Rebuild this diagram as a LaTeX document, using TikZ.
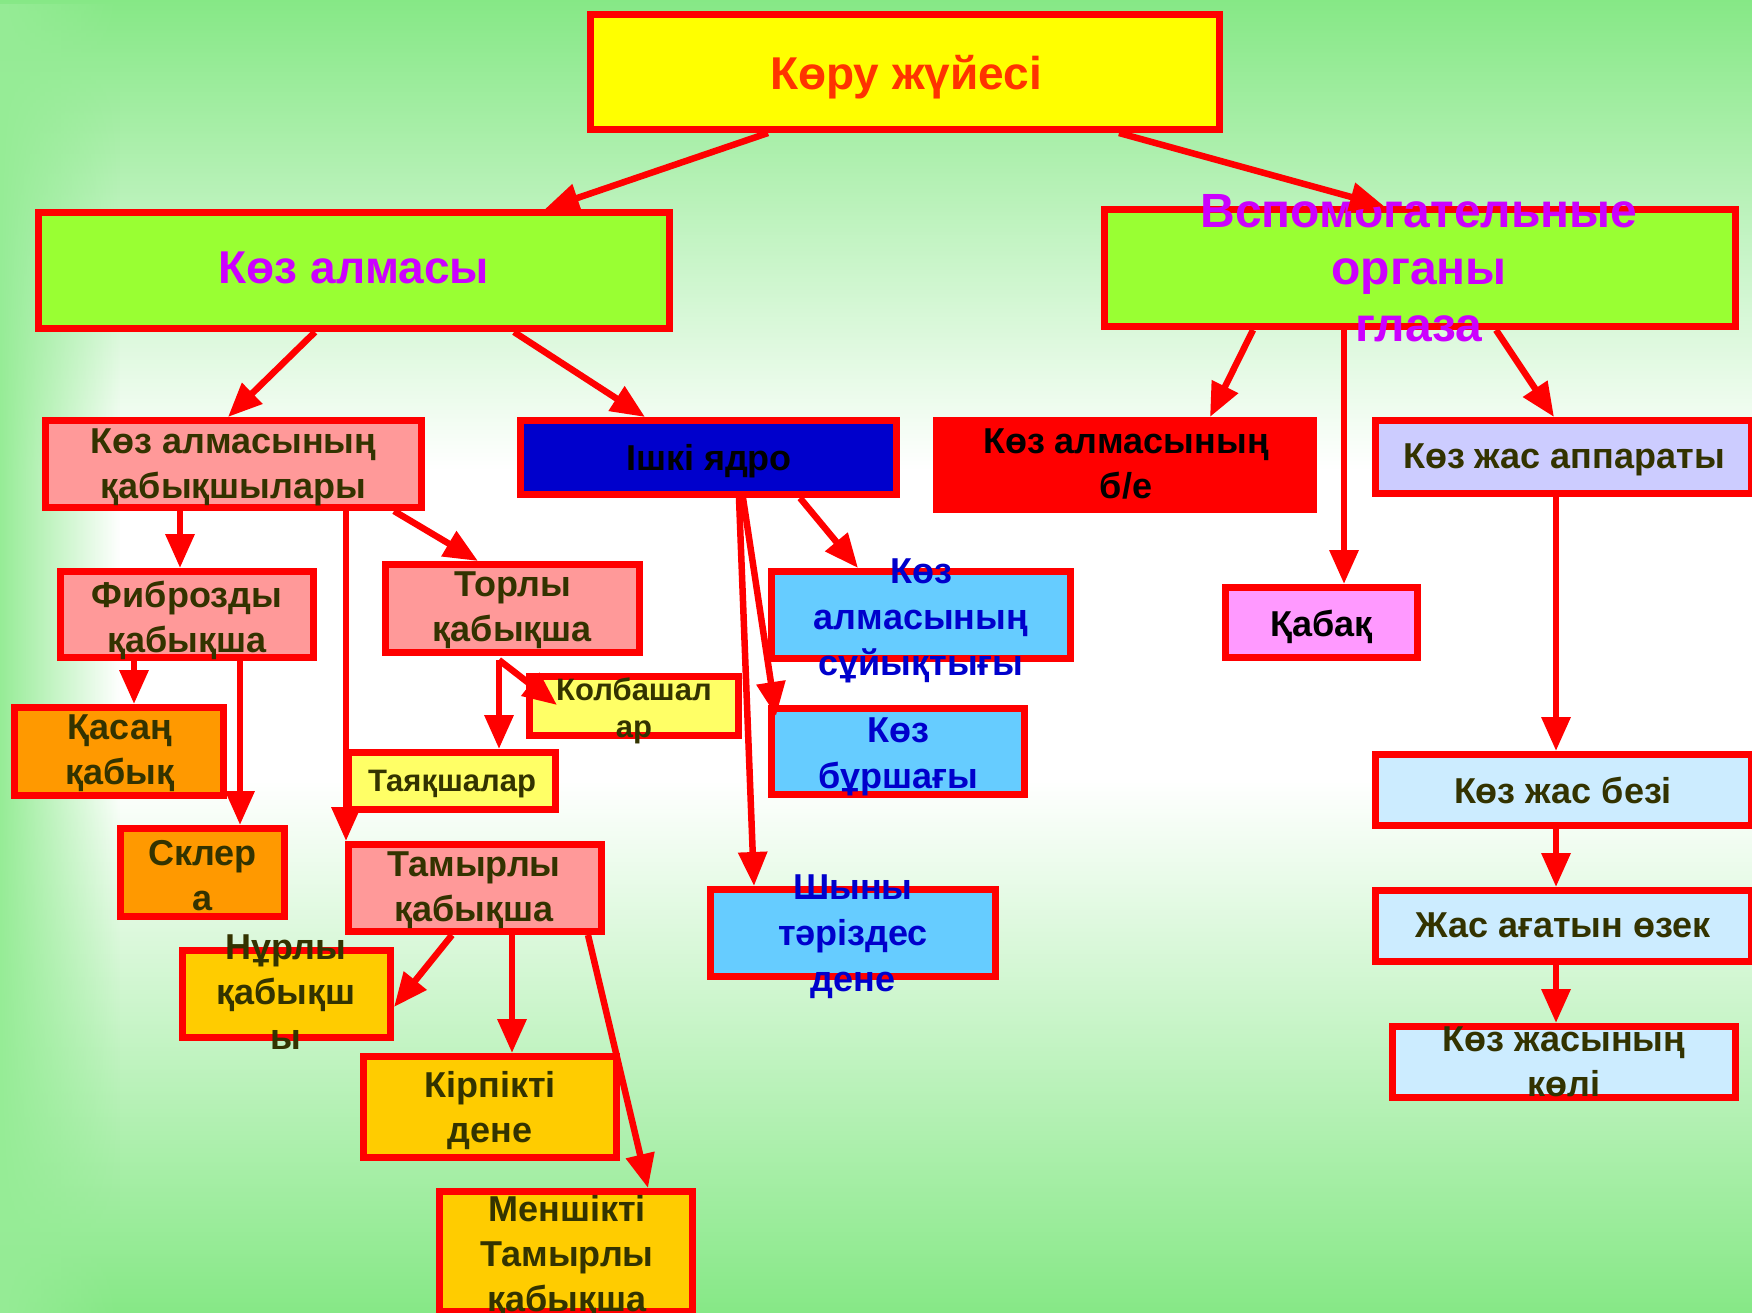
\documentclass[tikz,border=0pt]{standalone}
\usepackage{fontspec}
\setmainfont{Liberation Sans}
\usetikzlibrary{arrows.meta,fadings}
\definecolor{bgG}{RGB}{134,232,134}
\definecolor{bgL}{RGB}{150,236,150}
\definecolor{cRed}{RGB}{255,0,0}
\definecolor{cYel}{RGB}{255,255,0}
\definecolor{cLime}{RGB}{153,255,51}
\definecolor{cPink}{RGB}{255,153,153}
\definecolor{cNavy}{RGB}{0,0,204}
\definecolor{cLav}{RGB}{204,204,255}
\definecolor{cOrange}{RGB}{255,153,0}
\definecolor{cGold}{RGB}{255,204,0}
\definecolor{cLYel}{RGB}{255,255,102}
\definecolor{cSky}{RGB}{102,204,255}
\definecolor{cMag}{RGB}{255,153,255}
\definecolor{cIce}{RGB}{204,236,255}
\definecolor{tOlive}{RGB}{51,51,0}
\definecolor{tMag}{RGB}{204,0,255}
\definecolor{tOrg}{RGB}{255,51,0}
\definecolor{tBlue}{RGB}{0,0,204}
\tikzset{
  box/.style={draw=cRed, line width=7pt, inner sep=0pt},
  lbl/.style={anchor=north, align=center, inner sep=0pt, text=tOlive,
    font=\bfseries\fontsize{36}{45}\selectfont},
  blbl/.style={lbl, text=tBlue, font=\bfseries\fontsize{36}{46}\selectfont},
  klbl/.style={lbl, text=black},
  slbl/.style={lbl, font=\bfseries\fontsize{31}{37}\selectfont},
  biglbl/.style={lbl, font=\bfseries\fontsize{46}{57}\selectfont},
  arr/.style={draw=cRed, line width=6.5pt, -{Triangle[length=34pt,width=28pt]}}
}
\begin{document}
\begin{tikzpicture}[x=1pt,y=-1pt]
\useasboundingbox (0,0) rectangle (1752,1313);
% background
\fill[white] (0,0) rectangle (1752,1313);
\shade[top color=bgG, bottom color=white] (0,0) rectangle (1752,470);
\shade[top color=white, bottom color=bgG] (0,780) rectangle (1752,1313);
\fill[bgL, path fading=east] (0,0) rectangle (120,1313);

% boxes
\node[box,fill=cYel,minimum width=629pt,minimum height=115pt] (top) at (905,72) {};
\node[box,fill=cLime,minimum width=631pt,minimum height=116pt] (kozalm) at (354,270.5) {};
\node[box,fill=cLime,minimum width=631pt,minimum height=117pt] (vspom) at (1420,268) {};
\node[box,fill=cPink,minimum width=376pt,minimum height=87pt] (kabyk) at (233.5,464) {};
\node[box,fill=cNavy,minimum width=376pt,minimum height=74pt] (ishki) at (708.5,457.5) {};
\node[box,fill=cRed,minimum width=377pt,minimum height=89pt] (be) at (1125,465) {};
\node[box,fill=cLav,minimum width=376pt,minimum height=73pt] (apparat) at (1563,457) {};
\node[box,fill=cPink,minimum width=253pt,minimum height=86pt] (fibro) at (187,614.5) {};
\node[box,fill=cPink,minimum width=254pt,minimum height=88pt] (torly) at (512.5,608.5) {};
\node[box,fill=cLYel,minimum width=209pt,minimum height=59pt] (kolba) at (634,706) {};
\node[box,fill=cLYel,minimum width=207pt,minimum height=57pt] (tayak) at (452,781) {};
\node[box,fill=cOrange,minimum width=209pt,minimum height=88pt] (kasan) at (119,751.5) {};
\node[box,fill=cOrange,minimum width=164pt,minimum height=88pt] (sklera) at (202.5,872.5) {};
\node[box,fill=cPink,minimum width=253pt,minimum height=87pt] (tamyr) at (475,888) {};
\node[box,fill=cGold,minimum width=208pt,minimum height=87pt] (nurly) at (286.5,994) {};
\node[box,fill=cGold,minimum width=253pt,minimum height=101pt] (kirpik) at (490,1107) {};
\node[box,fill=cGold,minimum width=253pt,minimum height=120pt] (menshik) at (566,1251.5) {};
\node[box,fill=cSky,minimum width=299pt,minimum height=87pt] (suyk) at (921,615) {};
\node[box,fill=cSky,minimum width=253pt,minimum height=86pt] (burshak) at (898,751.5) {};
\node[box,fill=cSky,minimum width=285pt,minimum height=87pt] (shyny) at (853,933) {};
\node[box,fill=cMag,minimum width=192pt,minimum height=70pt] (kabak) at (1321.5,622.5) {};
\node[box,fill=cIce,minimum width=376pt,minimum height=71pt] (bezi) at (1563,790) {};
\node[box,fill=cIce,minimum width=376pt,minimum height=71pt] (agatyn) at (1563,926) {};
\node[box,fill=cIce,minimum width=343pt,minimum height=71pt] (koli) at (1564,1062) {};

% texts
\node[biglbl,text=tOrg] (topT) at (906,55) {Көру жүйесі};
\node[biglbl,text=tMag] (kozalmT) at (354,252) {Көз алмасы};
\node[biglbl,text=tMag,font=\bfseries\fontsize{48}{57}\selectfont] (vspomT) at (1419,194) {Вспомогательные\\органы\\глаза};
\node[lbl] (kabykT) at (233.5,429) {Көз алмасының\\қабықшылары};
\node[klbl] (ishkiT) at (709,444) {Ішкі ядро};
\node[klbl] (beT) at (1126,429) {Көз алмасының\\б/е};
\node[lbl] (apparatT) at (1564,444) {Көз жас аппараты};
\node[lbl] (fibroT) at (187,581) {Фиброзды\\қабықша};
\node[lbl] (torlyT) at (512.5,572) {Торлы\\қабықша};
\node[slbl] (kolbaT) at (634,678) {Колбашал\\ар};
\node[slbl] (tayakT) at (452,770) {Таяқшалар};
\node[lbl] (kasanT) at (120,715) {Қасаң\\қабық};
\node[lbl] (sklT) at (202.5,840) {Склер\\а};
\node[lbl] (tamyrT) at (474,852) {Тамырлы\\қабықша};
\node[lbl] (nurlyT) at (286,935) {Нұрлы\\қабықш\\ы};
\node[lbl] (kirpikT) at (490,1071) {Кірпікті\\дене};
\node[lbl] (menshikT) at (567,1195) {Меншікті\\Тамырлы\\қабықша};
\node[blbl] (suykT) at (921,559) {Көз\\алмасының\\сұйықтығы};
\node[blbl] (burshakT) at (898,718) {Көз\\бұршағы};
\node[blbl] (shynyT) at (853,875) {Шыны\\тәріздес\\дене};
\node[klbl] (kabakT) at (1321.5,610) {Қабақ};
\node[lbl] (beziT) at (1563,777) {Көз жас безі};
\node[lbl] (agatynT) at (1563,912.5) {Жас ағатын өзек};
\node[lbl] (koliT) at (1564,1027) {Көз жасының\\көлі};

% connectors
\draw[arr] ([shift={(-137,0)}]top.south) -- ([shift={(191,0)}]kozalm.north);
\draw[arr] ([shift={(214,0)}]top.south) -- ([shift={(-36,0)}]vspom.north);
\draw[arr] ([shift={(-39,0)}]kozalm.south) -- ([shift={(-5.5,0)}]kabyk.north);
\draw[arr] ([shift={(160,0)}]kozalm.south) -- ([shift={(-63.5,0)}]ishki.north);
\draw[arr] ([shift={(-167,0)}]vspom.south) -- ([shift={(85,0)}]be.north);
\draw[arr] ([shift={(-76,0)}]vspom.south) -- ([shift={(22.5,0)}]kabak.north);
\draw[arr] ([shift={(76,0)}]vspom.south) -- ([shift={(-9,0)}]apparat.north);
\draw[arr] ([shift={(-7,0)}]apparat.south) -- ([shift={(-7,0)}]bezi.north);
\draw[arr] ([shift={(-7,0)}]bezi.south) -- ([shift={(-7,0)}]agatyn.north);
\draw[arr] ([shift={(-7,0)}]agatyn.south) -- ([shift={(-8,0)}]koli.north);
\draw[arr] ([shift={(-53.5,0)}]kabyk.south) -- ([shift={(-7,0)}]fibro.north);
\draw[arr] ([shift={(112.5,0)}]kabyk.south) -- ([shift={(1,0)}]tamyr.north west);
\draw[arr] ([shift={(160.5,0)}]kabyk.south) -- ([shift={(-34.5,0)}]torly.north);
\draw[arr] ([shift={(-53,0)}]fibro.south) -- ([shift={(15,0)}]kasan.north);
\draw[arr] ([shift={(53,0)}]fibro.south) -- ([shift={(37.5,0)}]sklera.north);
\coordinate (torlyS) at ([shift={(-13.5,4)}]torly.south);
\draw[arr] (torlyS) -- ([shift={(47,0)}]tayak.north);
\draw[arr] (torlyS) -- ([shift={(-77,-1)}]kolba.center);
\draw[arr] ([shift={(91.5,0)}]ishki.south) -- ([shift={(-63,0)}]suyk.north);
\draw[arr] ([shift={(34.5,0)}]ishki.south) -- ([shift={(8,-35.5)}]burshak.west);
\draw[arr] ([shift={(30.5,0)}]ishki.south) -- ([shift={(-99,0)}]shyny.north);
\draw[arr] ([shift={(-23,0)}]tamyr.south) -- ([shift={(0,13)}]nurly.east);
\draw[arr] ([shift={(37,0)}]tamyr.south) -- ([shift={(22,0)}]kirpik.north);
\draw[arr] ([shift={(113,0)}]tamyr.south) -- ([shift={(82,0)}]menshik.north);
\end{tikzpicture}
\end{document}
